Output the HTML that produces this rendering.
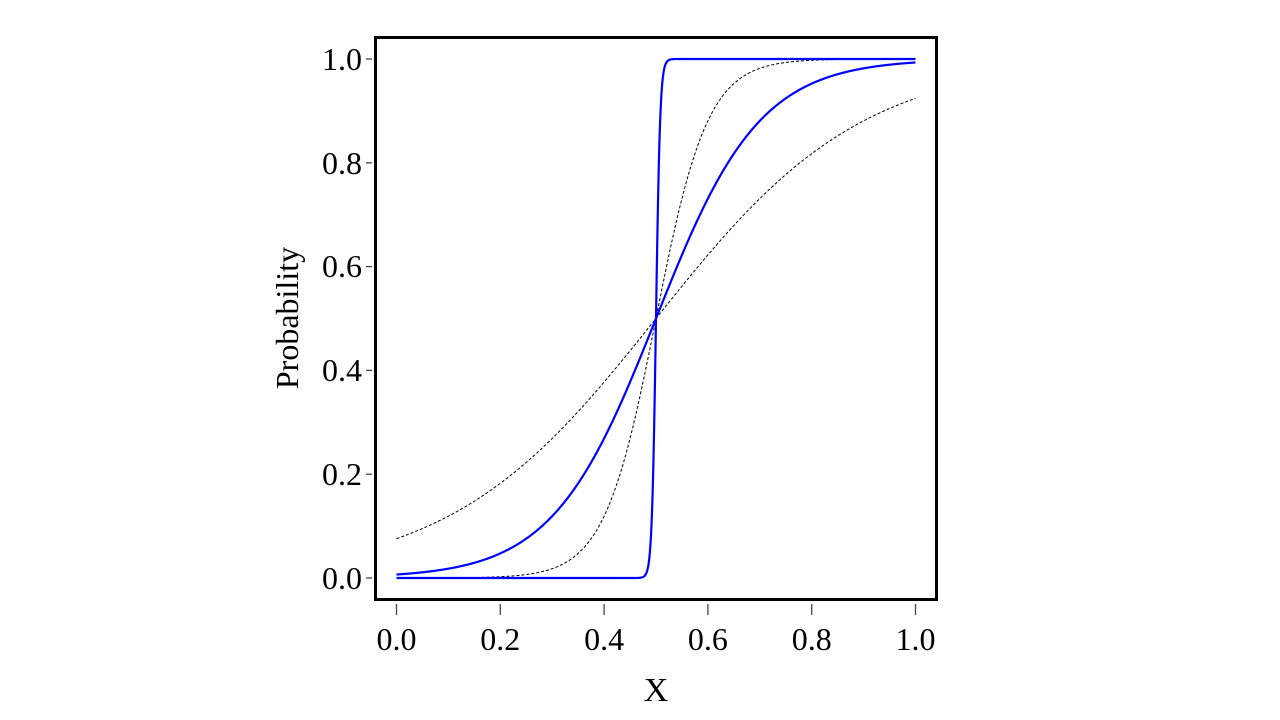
<!DOCTYPE html>
<html><head><meta charset="utf-8"><style>
html,body{margin:0;padding:0;background:#fff;width:1280px;height:720px;overflow:hidden}
text{font-family:"Liberation Serif",serif;fill:#000}
</style></head><body>
<svg id="s" width="1280" height="720" xmlns="http://www.w3.org/2000/svg">
<rect x="375.5" y="37.5" width="561" height="562" fill="none" stroke="#000" stroke-width="3"/>
<g stroke="#444" stroke-width="1.3">
<line x1="396.5" y1="604" x2="396.5" y2="615"/><line x1="500.3" y1="604" x2="500.3" y2="615"/>
<line x1="604.1" y1="604" x2="604.1" y2="615"/><line x1="707.9" y1="604" x2="707.9" y2="615"/>
<line x1="811.7" y1="604" x2="811.7" y2="615"/><line x1="915.5" y1="604" x2="915.5" y2="615"/>
<line x1="366" y1="578" x2="372" y2="578"/><line x1="366" y1="474.2" x2="372" y2="474.2"/>
<line x1="366" y1="370.4" x2="372" y2="370.4"/><line x1="366" y1="266.6" x2="372" y2="266.6"/>
<line x1="366" y1="162.8" x2="372" y2="162.8"/><line x1="366" y1="59" x2="372" y2="59"/>
</g>
<g font-size="32" text-anchor="middle">
<text x="396.5" y="650">0.0</text><text x="500.3" y="650">0.2</text><text x="604.1" y="650">0.4</text>
<text x="707.9" y="650">0.6</text><text x="811.7" y="650">0.8</text><text x="915.5" y="650">1.0</text>
</g>
<g font-size="32" text-anchor="end">
<text x="362" y="589">0.0</text><text x="362" y="485">0.2</text><text x="362" y="381">0.4</text>
<text x="362" y="277">0.6</text><text x="362" y="174">0.8</text><text x="362" y="70">1.0</text>
</g>
<text x="656" y="701" font-size="34" text-anchor="middle">X</text>
<text transform="translate(298,318) rotate(-90)" font-size="32" text-anchor="middle">Probability</text>
<g id="curves" fill="none"></g>
</svg>
<script>
var g=document.getElementById('curves');
function path(k,stroke,w,dash){
 var d='';
 for(var i=0;i<=2000;i++){var x=i/2000;var y=1/(1+Math.exp(-k*(x-0.5)));
  var px=396.5+x*519,py=578-y*519;d+=(i?'L':'M')+px.toFixed(2)+' '+py.toFixed(2);}
 var p=document.createElementNS('http://www.w3.org/2000/svg','path');
 p.setAttribute('d',d);p.setAttribute('stroke',stroke);p.setAttribute('stroke-width',w);
 if(dash)p.setAttribute('stroke-dasharray',dash);g.appendChild(p);
}
path(5,'#000',1,'3,2');
path(20,'#000',1,'3,2');
path(10,'#0000ff',2.2);
path(250,'#0000ff',2.2);
</script>
</body></html>
